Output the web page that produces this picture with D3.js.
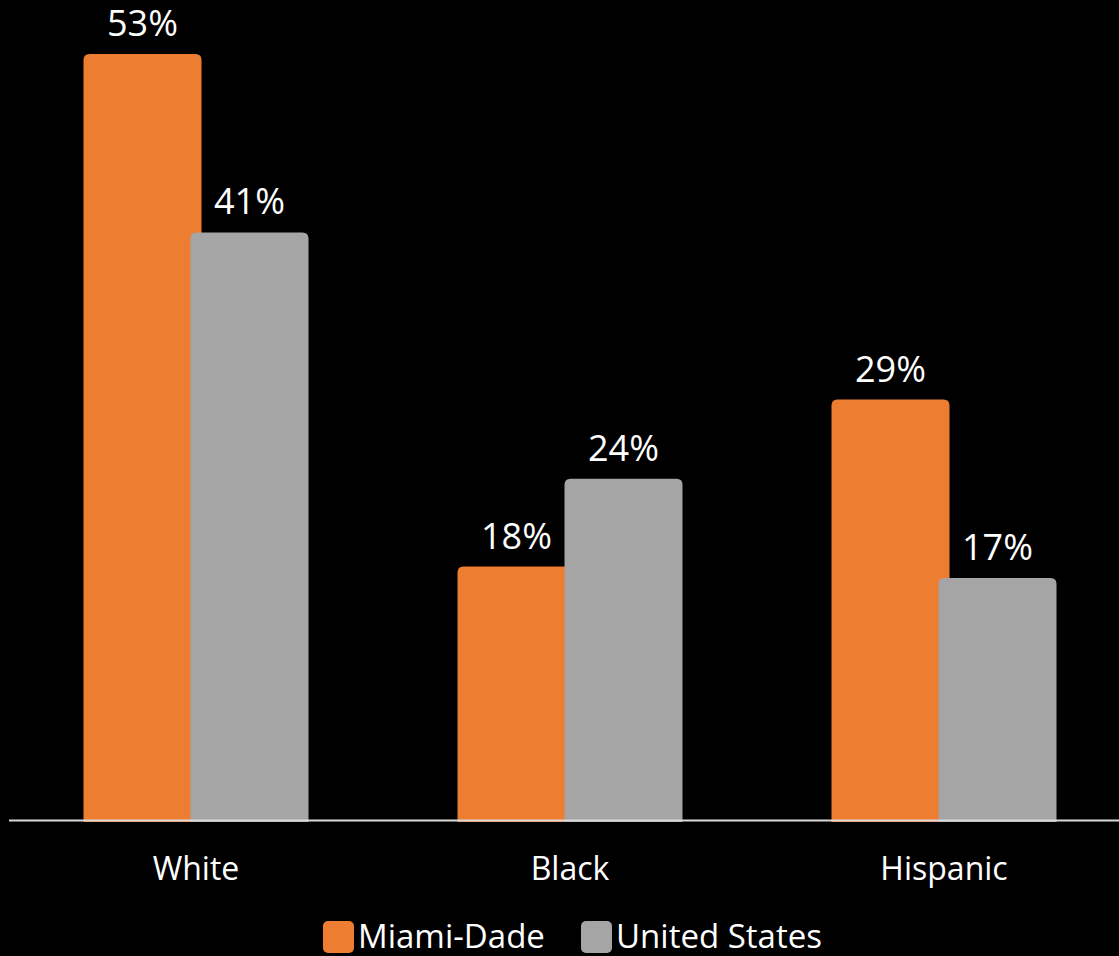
<!DOCTYPE html>
<html><head><meta charset="utf-8">
<script src="https://cdn.jsdelivr.net/npm/d3@7"></script>
<style>html,body{margin:0;padding:0;background:#000;}svg{display:block;}</style>
</head><body>
<script>
const categories = ["White", "Black", "Hispanic"];
const seriesNames = ["Miami-Dade", "United States"];
const miamiDade = [53.2, 17.6, 29.2];
const unitedStates = [40.8, 23.7, 16.8];
const valueLabels = [["53%", "18%", "29%"], ["41%", "24%", "17%"]];
const colors = ["#ED7D31", "#A5A5A5"];

const W = 1119, H = 956;
const svg = d3.select("body").append("svg").attr("width", W).attr("height", H);
svg.append("rect").attr("width", W).attr("height", H).attr("fill", "#000");

const baseY = 820;
const x = d3.scaleBand().domain(categories).range([9, 1131]).padding(0);
const xs = d3.scalePoint().domain(seriesNames).range([-53.5, 53.5]);
const y = d3.scaleLinear().domain([0, 60]).range([baseY, baseY - 60 * 14.4]);
const barW = 118;

const data = [];
[miamiDade, unitedStates].forEach((vals, si) => {
  vals.forEach((v, ci) => data.push({cat: categories[ci], s: seriesNames[si], si, v, label: valueLabels[si][ci]}));
});

function topRounded(x0, y0, w, h, r) {
  return `M${x0},${y0 + h}V${y0 + r}Q${x0},${y0} ${x0 + r},${y0}H${x0 + w - r}Q${x0 + w},${y0} ${x0 + w},${y0 + r}V${y0 + h}Z`;
}

const g = svg.append("g");
[0, 1].forEach(si => {
  data.filter(d => d.si === si).forEach(d => {
    const cx = x(d.cat) + x.bandwidth() / 2 + xs(d.s);
    const top = y(d.v);
    g.append("path").attr("d", topRounded(cx - barW / 2, top, barW, baseY + 2 - top, 6)).attr("fill", colors[si]);
    g.append("text").attr("x", cx).attr("y", top - 18).attr("text-anchor", "middle")
      .attr("fill", "#fff").attr("font-family", "Open Sans").attr("font-size", 36).text(d.label);
  });
});

// baseline
svg.append("line").attr("x1", 9).attr("x2", W).attr("y1", baseY + 0.5).attr("y2", baseY + 0.5)
  .attr("stroke", "#D9D9D9").attr("stroke-width", 2);

// category labels
svg.append("g").selectAll("text").data(categories).join("text")
  .attr("x", d => x(d) + x.bandwidth() / 2).attr("y", 880).attr("text-anchor", "middle")
  .attr("fill", "#fff").attr("font-family", "Open Sans").attr("font-size", 32).text(d => d);

// legend
const lg = svg.append("g");
const items = [{name: seriesNames[0], c: colors[0], x: 323}, {name: seriesNames[1], c: colors[1], x: 581}];
items.forEach(it => {
  lg.append("rect").attr("x", it.x).attr("y", 921).attr("width", 31).attr("height", 32).attr("rx", 5).attr("fill", it.c);
  lg.append("text").attr("x", it.x + 35).attr("y", 948).attr("fill", "#fff")
    .attr("font-family", "Open Sans").attr("font-size", 33).text(it.name);
});
</script>
</body></html>
